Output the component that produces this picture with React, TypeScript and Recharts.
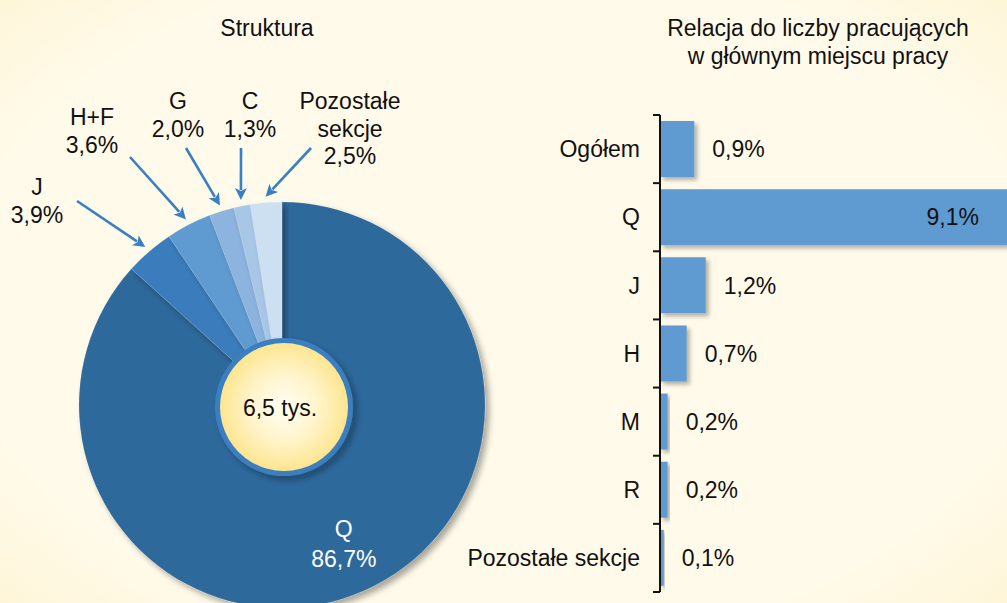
import React from "react";
import {
  PieChart,
  Pie,
  Cell,
  BarChart,
  Bar,
  XAxis,
  YAxis,
  LabelList,
} from "recharts";

// structure of employment (share, %)
const sliceNames = ["Q", "J", "H+F", "G", "C", "Pozostałe sekcje"];
const sliceShares = [86.7, 3.9, 3.6, 2.0, 1.3, 2.5];
const totalLabel = "6,5 tys.";
const totalValue = 6.5;

// relation to number of employed in main workplace (%)
const sectionNames = ["Ogółem", "Q", "J", "H", "M", "R", "Pozostałe sekcje"];
const sectionValues = [0.9, 9.1, 1.2, 0.7, 0.2, 0.2, 0.1];

const sliceColors = ["#2e699c", "#3a7dbc", "#5f9bd1", "#8cb4de", "#a8c7e7", "#cde0f2"];
const barColor = "#5f9bd1";
const arrowColor = "#3a7fc1";
const FONT = '"Liberation Sans", Arial, sans-serif';

// callout placement for the small slices (offsets from the pie centre)
const callouts: Record<string, { tail: [number, number]; text: [number, number] }> = {
  J: { tail: [-205, -204], text: [-245, -218] },
  "H+F": { tail: [-152, -248], text: [-190, -288] },
  G: { tail: [-96, -257], text: [-104, -304] },
  C: { tail: [-41, -257], text: [-32, -304] },
  "Pozostałe sekcje": { tail: [29, -257], text: [68, -304] },
};

const pieData = sliceNames.map((name, i) => ({ name, value: sliceShares[i] }));
const totalData = [{ name: "Ogółem", value: totalValue }];
const barData = sectionNames.map((name, i) => ({ name, value: sectionValues[i] }));

const fmt = (v: number) => v.toFixed(1).replace(".", ",") + "%";
const RAD = Math.PI / 180;

const BAR_H = 603;
const BAR_MARGIN = { top: 115, right: 0, bottom: 11, left: 0 };

const renderSliceLabel = (props: any) => {
  const { cx, cy, midAngle, outerRadius, index, name, value } = props;
  const cos = Math.cos(-midAngle * RAD);
  const sin = Math.sin(-midAngle * RAD);
  if (index === 0) {
    const r = outerRadius * 0.75;
    const x = cx + r * cos;
    const y = cy + r * sin;
    return (
      <text x={x} y={y} textAnchor="middle" fill="#fff" fontSize={23} fontFamily={FONT}>
        <tspan x={x} y={y - 7}>{name}</tspan>
        <tspan x={x} y={y + 23}>{fmt(value)}</tspan>
      </text>
    );
  }
  const c = callouts[name];
  if (!c) return null;
  const tipR = outerRadius + 6;
  const tx = cx + tipR * cos;
  const ty = cy + tipR * sin;
  const sx = cx + c.tail[0];
  const sy = cy + c.tail[1];
  const len = Math.hypot(tx - sx, ty - sy);
  const ux = (tx - sx) / len;
  const uy = (ty - sy) / len;
  const hl = 12;
  const hw = 6;
  const bx = tx - ux * hl;
  const by = ty - uy * hl;
  const lines = [...String(name).split(" "), fmt(value)];
  const lx = cx + c.text[0];
  const ly = cy + c.text[1];
  return (
    <g>
      <line x1={sx} y1={sy} x2={bx + ux * 2} y2={by + uy * 2} stroke={arrowColor} strokeWidth={2.6} />
      <polygon
        points={`${tx},${ty} ${bx - uy * hw},${by + ux * hw} ${bx + ux * 3},${by + uy * 3} ${bx + uy * hw},${by - ux * hw}`}
        fill={arrowColor}
      />
      <text textAnchor="middle" fill="#111" fontSize={23} fontFamily={FONT}>
        {lines.map((l, i) => (
          <tspan key={i} x={lx} y={ly + 8 + i * 27.5}>
            {l}
          </tspan>
        ))}
      </text>
    </g>
  );
};

const renderTotalLabel = (props: any) => {
  const { cx, cy } = props;
  return (
    <text x={cx - 4} y={cy + 9} textAnchor="middle" fill="#111" fontSize={23} fontFamily={FONT}>
      {totalLabel}
    </text>
  );
};

const CategoryTick = (props: any) => {
  const { x, y, payload, index } = props;
  const band = (BAR_H - BAR_MARGIN.top - BAR_MARGIN.bottom) / sectionNames.length;
  return (
    <g>
      <text x={x - 20} y={y} dy="0.36em" textAnchor="end" fill="#111" fontSize={23} fontFamily={FONT}>
        {payload.value}
      </text>
      <line x1={x - 7} x2={x} y1={y - band / 2} y2={y - band / 2} stroke="#111" strokeWidth={2} />
      {index === sectionNames.length - 1 && (
        <line x1={x - 7} x2={x} y1={y + band / 2} y2={y + band / 2} stroke="#111" strokeWidth={2} />
      )}
    </g>
  );
};

const renderBarLabel = (props: any) => {
  const x = Number(props.x);
  const y = Number(props.y);
  const width = Number(props.width);
  const height = Number(props.height);
  const inside = width > 150;
  return (
    <text
      x={inside ? x + width - 28 : x + width + 18}
      y={y + height / 2}
      dy="0.36em"
      textAnchor={inside ? "end" : "start"}
      fill="#111"
      fontSize={23}
      fontFamily={FONT}
    >
      {fmt(Number(props.value))}
    </text>
  );
};

export default function App() {
  return (
    <div
      style={{
        position: "absolute",
        left: 0,
        top: 0,
        width: 1007,
        height: 603,
        overflow: "hidden",
        fontFamily: FONT,
        color: "#111",
        background:
          "radial-gradient(ellipse 75% 80% at 50% 50%, #fffae9 72%, #fef5d6 94%, #fdf0c4 100%)",
      }}
    >
      <div
        style={{
          position: "absolute",
          left: 167,
          top: 14,
          width: 200,
          textAlign: "center",
          fontSize: 23,
          lineHeight: "28px",
        }}
      >
        Struktura
      </div>
      <div
        style={{
          position: "absolute",
          left: 618,
          top: 14,
          width: 400,
          textAlign: "center",
          fontSize: 23,
          lineHeight: "28px",
        }}
      >
        Relacja do liczby pracujących
        <br />w głównym miejscu pracy
      </div>

      <div style={{ position: "absolute", left: 0, top: 0 }}>
        <PieChart width={560} height={603} margin={{ top: 0, right: 0, bottom: 0, left: 0 }}>
          <defs>
            <filter id="pieShadow" x="-20%" y="-20%" width="140%" height="140%">
              <feDropShadow dx="4" dy="4" stdDeviation="3" floodColor="#000" floodOpacity="0.35" />
            </filter>
            <radialGradient id="centerFill" cx="50%" cy="50%" r="50%">
              <stop offset="0%" stopColor="#fffef6" />
              <stop offset="55%" stopColor="#fff4c8" />
              <stop offset="100%" stopColor="#fde58f" />
            </radialGradient>
          </defs>
          <Pie
            data={pieData}
            dataKey="value"
            nameKey="name"
            cx={282}
            cy={405}
            outerRadius={203}
            startAngle={90}
            endAngle={-270}
            label={renderSliceLabel}
            labelLine={false}
            isAnimationActive={false}
          >
            {pieData.map((d, i) => (
              <Cell
                key={d.name}
                fill={sliceColors[i]}
                stroke="rgba(255,255,255,0.2)"
                strokeWidth={0.5}
                filter="url(#pieShadow)"
              />
            ))}
          </Pie>
          <Pie
            data={totalData}
            dataKey="value"
            cx={284}
            cy={407}
            innerRadius={63}
            outerRadius={69}
            startAngle={90}
            endAngle={-270}
            fill="#3a7fc1"
            stroke="none"
            isAnimationActive={false}
          >
            <Cell fill="#3a7fc1" stroke="none" filter="url(#pieShadow)" />
          </Pie>
          <Pie
            data={totalData}
            dataKey="value"
            cx={284}
            cy={407}
            outerRadius={64}
            startAngle={90}
            endAngle={-270}
            stroke="none"
            label={renderTotalLabel}
            labelLine={false}
            isAnimationActive={false}
          >
            <Cell fill="url(#centerFill)" stroke="none" />
          </Pie>
        </PieChart>
      </div>

      <div style={{ position: "absolute", left: 460, top: 0 }}>
        <BarChart
          width={547}
          height={BAR_H}
          data={barData}
          layout="vertical"
          margin={BAR_MARGIN}
          barCategoryGap={6}
        >
          <defs>
            <filter id="barShadow" x="-20%" y="-20%" width="150%" height="150%">
              <feDropShadow dx="3" dy="3" stdDeviation="2" floodColor="#000" floodOpacity="0.3" />
            </filter>
          </defs>
          <XAxis type="number" domain={[0, 9.1]} hide />
          <YAxis
            type="category"
            dataKey="name"
            width={200}
            axisLine={{ stroke: "#111", strokeWidth: 2 }}
            tickLine={false}
            tickSize={0}
            tickMargin={0}
            tick={<CategoryTick />}
            interval={0}
          />
          <Bar dataKey="value" fill={barColor} filter="url(#barShadow)" isAnimationActive={false}>
            <LabelList dataKey="value" content={renderBarLabel} />
          </Bar>
        </BarChart>
      </div>
    </div>
  );
}
